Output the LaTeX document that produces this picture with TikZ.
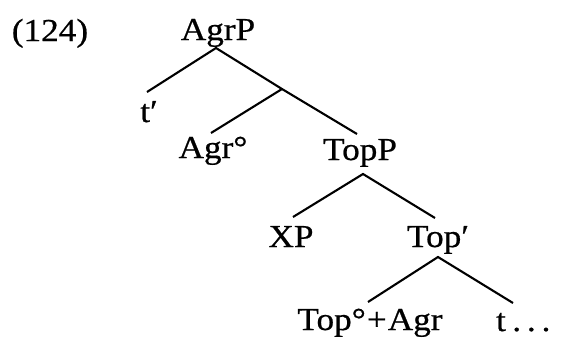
\documentclass[tikz,border=0pt]{standalone}
\usepackage{fontspec}
\usepackage{graphicx}
\setmainfont{Liberation Serif}[FakeBold=0.6]
\newcommand{\hstr}[1]{\scalebox{1.1}[1]{#1}}
\begin{document}
\begin{tikzpicture}[x=1pt,y=-1pt,
  lab/.style={anchor=base,inner sep=0pt,font=\fontsize{32}{34}\selectfont},
  br/.style={line width=2.1pt}]
\useasboundingbox (0,0) rectangle (561,338);
\node[lab] (num) at (50,41) {\hstr{(124)}};
\node[lab] (agrp) at (218,40) {\hstr{AgrP}};
\node[lab] (tp) at (149,122) {\hstr{t′}};
\node[lab] (agr) at (213,158) {\hstr{Agr°}};
\node[lab] (topp) at (360,160) {\hstr{TopP}};
\node[lab] (xp) at (291,247) {\hstr{XP}};
\node[lab] (topbar) at (438,247) {\hstr{Top′}};
\node[lab] (topagr) at (370,330) {\hstr{Top°\kern1pt+\kern1ptAgr}};
\node[lab] (t) at (501,331) {\hstr{t}};
\node[lab,anchor=base west] (dots) at ([xshift=6pt]t.base east) {\hstr{.\,.\,.}};
\coordinate (a1) at (216,48);
\coordinate (a1l) at (147,92);
\coordinate (mid) at (282,89);
\coordinate (a2r) at (357,134);
\coordinate (agrtop) at (211,133);
\coordinate (a3) at (363,174);
\coordinate (xptop) at (293,217);
\coordinate (topbartop) at (435,218);
\coordinate (a4) at (438,257);
\coordinate (tatop) at (368,302);
\coordinate (ttop) at (513,303);
\draw[br] (a1l) -- (a1) -- (mid) -- (a2r);
\draw[br] (mid) -- (agrtop);
\draw[br] (xptop) -- (a3) -- (topbartop);
\draw[br] (tatop) -- (a4) -- (ttop);
\end{tikzpicture}
\end{document}
